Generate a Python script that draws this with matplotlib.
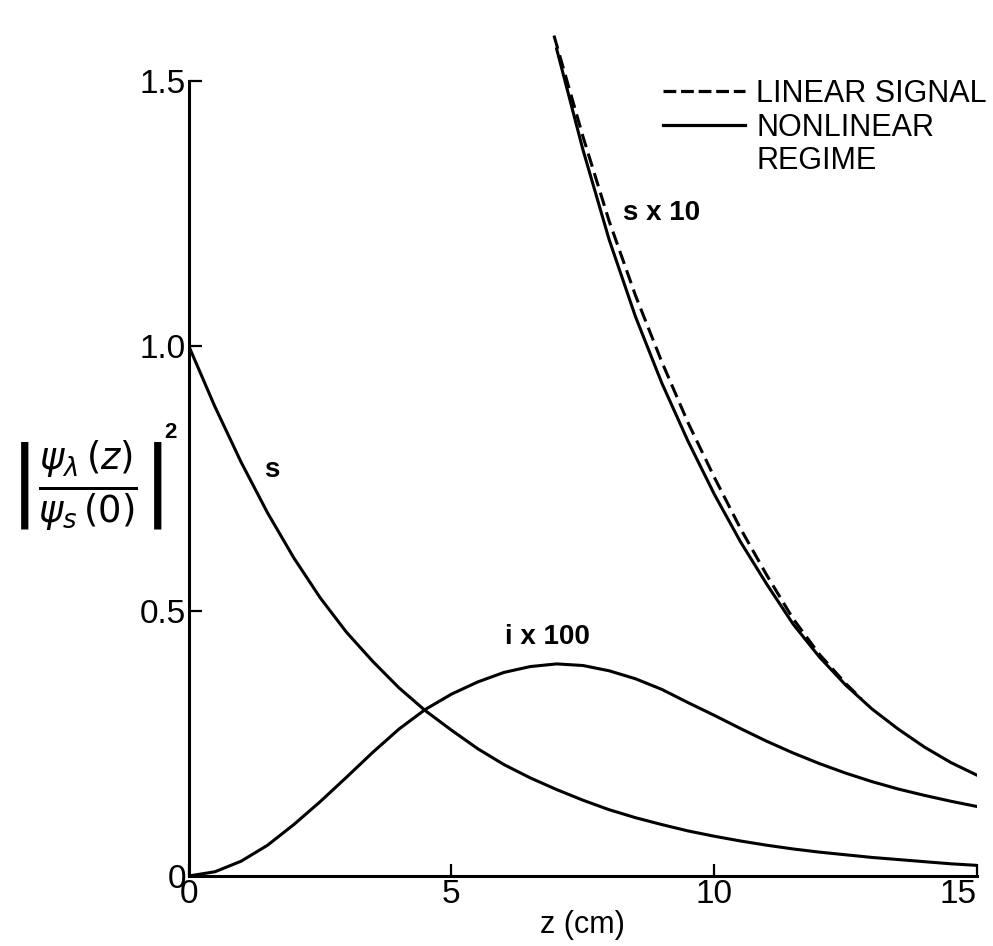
import matplotlib
matplotlib.use("Agg")
import matplotlib.pyplot as plt
from matplotlib.lines import Line2D

plt.rcParams['font.family'] = ['Liberation Sans', 'DejaVu Sans']
plt.rcParams['mathtext.fontset'] = 'dejavusans'

# signal wave s (normalised intensity)
z_s = [0, 0.5, 1, 1.5, 2, 2.5, 3, 3.5, 4, 4.5, 5, 5.5, 6, 6.5, 7, 7.5,
       8, 8.5, 9, 9.5, 10, 10.5, 11, 11.5, 12, 12.5, 13, 13.5, 14, 14.5, 15]
s = [1.0, 0.885, 0.78, 0.685, 0.60, 0.525, 0.46, 0.405, 0.355, 0.312, 0.275,
     0.24, 0.21, 0.185, 0.163, 0.143, 0.125, 0.11, 0.097, 0.085, 0.075, 0.066,
     0.058, 0.051, 0.045, 0.04, 0.035, 0.031, 0.027, 0.023, 0.02]

# idler x 100
i100 = [0.0, 0.008, 0.028, 0.058, 0.097, 0.14, 0.186, 0.233, 0.277, 0.314, 0.343,
        0.366, 0.384, 0.395, 0.40, 0.397, 0.387, 0.372, 0.352, 0.327, 0.303,
        0.278, 0.254, 0.232, 0.212, 0.194, 0.178, 0.164, 0.152, 0.141, 0.131]

# signal x 10, nonlinear regime (solid)
z_s10 = [7, 7.5, 8, 8.5, 9, 9.5, 10, 10.5, 11, 11.5, 12, 12.5, 13, 13.5, 14, 14.5, 15]
s10 = [1.56, 1.37, 1.20, 1.055, 0.93, 0.82, 0.72, 0.63, 0.55, 0.475, 0.413,
       0.36, 0.315, 0.277, 0.243, 0.214, 0.19]

# signal x 10, linear signal (dashed)
z_lin = [6.95, 7.5, 8, 8.5, 9, 9.5, 10, 10.5, 11, 11.5, 12, 12.5, 12.8]
s10_lin = [1.585, 1.395, 1.235, 1.095, 0.97, 0.855, 0.752, 0.655, 0.567, 0.485,
           0.418, 0.363, 0.334]

xticks = [0, 5, 10, 15]
yticks = [0, 0.5, 1.0, 1.5]
yticklabels = ['0', '0.5', '1.0', '1.5']

fig = plt.figure(figsize=(9.93, 9.46), dpi=100)
ax = fig.add_axes([0.190, 0.074, 0.794, 0.908])

lw = 2.2
ax.plot(z_s, s, color='black', lw=lw)
ax.plot(z_s, i100, color='black', lw=lw)
ax.plot(z_s10, s10, color='black', lw=lw)
ax.plot(z_lin, s10_lin, color='black', lw=lw, dashes=(4.5, 2.2))

ax.set_xlim(0, 15)
ax.set_ylim(0, 1.62)
ax.spines['top'].set_visible(False)
ax.spines['right'].set_visible(False)
ax.spines['left'].set_bounds(0, 1.5)
ax.spines['left'].set_linewidth(2.2)
ax.spines['bottom'].set_linewidth(2.2)

ax.set_xticks(xticks)
ax.set_xticklabels([str(t) for t in xticks])
ax.set_yticks(yticks)
ax.set_yticklabels(yticklabels)
ax.tick_params(direction='in', length=9, width=1.6, labelsize=24, pad=2)
ax.get_xticklabels()[-1].set_ha('right')

ax.set_xlabel('z (cm)', fontsize=22, labelpad=0)
# y label: |psi_lambda(z) / psi_s(0)|^2
fig.text(0.086, 0.485, r'$\left|\frac{\psi_{\lambda}\,(z)}{\psi_{s}\,(0)}\right|$',
         fontsize=38, ha='center', va='center')
fig.text(0.172, 0.543, '2', fontsize=16, fontweight='bold', ha='center', va='center')

ax.text(1.58, 0.766, 's', fontsize=20, fontweight='bold', ha='center', va='center')
ax.text(9.0, 1.25, 's x 10', fontsize=20, fontweight='bold', ha='center', va='center')
ax.text(6.82, 0.45, 'i x 100', fontsize=20, fontweight='bold', ha='center', va='center')

handles = [Line2D([], [], color='black', lw=2.3, dashes=(4, 1.5)),
           Line2D([], [], color='black', lw=2.3),
           Line2D([], [], color='none')]
ax.legend(handles, ['LINEAR SIGNAL', 'NONLINEAR', 'REGIME'], loc='upper left',
          bbox_to_anchor=(0.6015, 0.928), frameon=False, fontsize=22,
          handlelength=2.7, handletextpad=0.35, labelspacing=0.12, borderpad=0,
          borderaxespad=0)

fig.savefig('out.png', dpi=100)
